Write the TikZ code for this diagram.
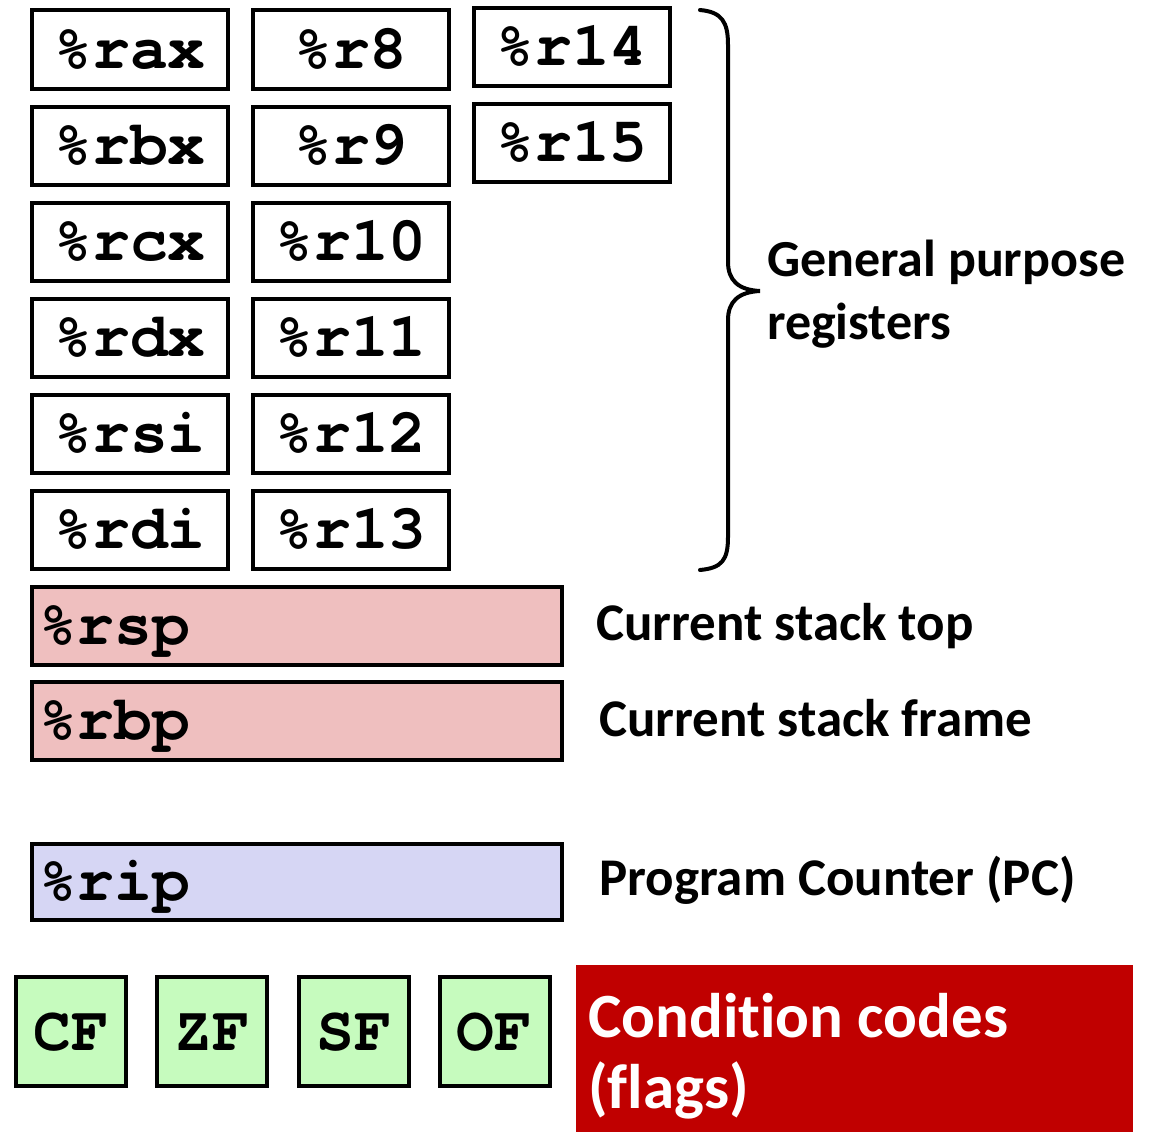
\documentclass[tikz,border=0pt]{standalone}
\usepackage{fontspec}
\setmainfont{Carlito}[Ligatures=NoCommon]
\setmonofont{TeX Gyre Cursor}
\definecolor{stackpink}{RGB}{239,191,191}
\definecolor{piclav}{RGB}{214,214,244}
\definecolor{flaggreen}{RGB}{198,251,190}
\definecolor{ccred}{RGB}{192,0,0}
\begin{document}
\begin{tikzpicture}[x=1pt,y=-1pt,
  reg/.style={draw=black,line width=4pt,inner sep=0pt,
    minimum width=196pt,minimum height=78pt,
    font=\fontsize{63}{63}\selectfont\ttfamily\bfseries,
    text height=37pt,text depth=0pt},
  widereg/.style={reg,minimum width=530pt,text width=516pt,align=left},
  flagbox/.style={reg,fill=flaggreen,minimum width=110pt,minimum height=109pt},
  lbl/.style={anchor=base west,inner sep=0pt,
    font=\fontsize{53}{53}\selectfont\bfseries},
  cclbl/.style={lbl,text=white,font=\fontsize{63}{63}\selectfont\bfseries}
]
\useasboundingbox (0,0) rectangle (1155,1132);

% general purpose registers, three columns
\node[reg] (rax) at (130,49.5) {\%rax};
\node[reg] (rbx) at (130,146) {\%rbx};
\node[reg] (rcx) at (130,242) {\%rcx};
\node[reg] (rdx) at (130,338) {\%rdx};
\node[reg] (rsi) at (130,434) {\%rsi};
\node[reg] (rdi) at (130,530) {\%rdi};

\node[reg] (r8)  at (351,49.5) {\%r8};
\node[reg] (r9)  at (351,146) {\%r9};
\node[reg] (r10) at (351,242) {\%r10};
\node[reg] (r11) at (351,338) {\%r11};
\node[reg] (r12) at (351,434) {\%r12};
\node[reg] (r13) at (351,530) {\%r13};

\node[reg] (r14) at (572,47) {\%r14};
\node[reg] (r15) at (572,143) {\%r15};

% brace grouping the general purpose registers
\draw[line width=4pt,line cap=round] (700,10)
  .. controls (722,12) and (728,22) .. (728,45)
  -- (728,262)
  .. controls (728,280) and (738,290) .. (760,291)
  .. controls (738,292) and (728,302) .. (728,320)
  -- (728,537)
  .. controls (728,560) and (722,568) .. (700,570);
\node[lbl,font=\fontsize{52}{52}\selectfont\bfseries] (gpr1) at (767,276) {General purpose};
\node[lbl,font=\fontsize{52}{52}\selectfont\bfseries] (gpr2) at (767,339) {registers};

% stack registers
\node[widereg,fill=stackpink] (rsp) at (297,626) {\%rsp};
\node[widereg,fill=stackpink] (rbp) at (297,721) {\%rbp};
\node[lbl] (rsplbl) at (596,640) {Current stack top};
\node[lbl] (rbplbl) at (599,736) {Current stack frame};

% instruction pointer
\node[widereg,fill=piclav,minimum height=76pt] (rip) at (297,882) {\%rip};
\node[lbl] (riplbl) at (599,895) {Program Counter (PC)};

% condition code flags
\node[flagbox] (cf) at (71,1031.5) {CF};
\node[flagbox] (zf) at (212,1031.5) {ZF};
\node[flagbox] (sf) at (354,1031.5) {SF};
\node[flagbox] (of) at (494.5,1031.5) {OF};

\node[fill=ccred,minimum width=557pt,minimum height=167pt,inner sep=0pt] (cc) at (854.5,1048.5) {};
\node[cclbl] (cc1) at (588,1037) {Condition codes};
\node[cclbl] (cc2) at (588,1108) {(flags)};
\end{tikzpicture}
\end{document}
